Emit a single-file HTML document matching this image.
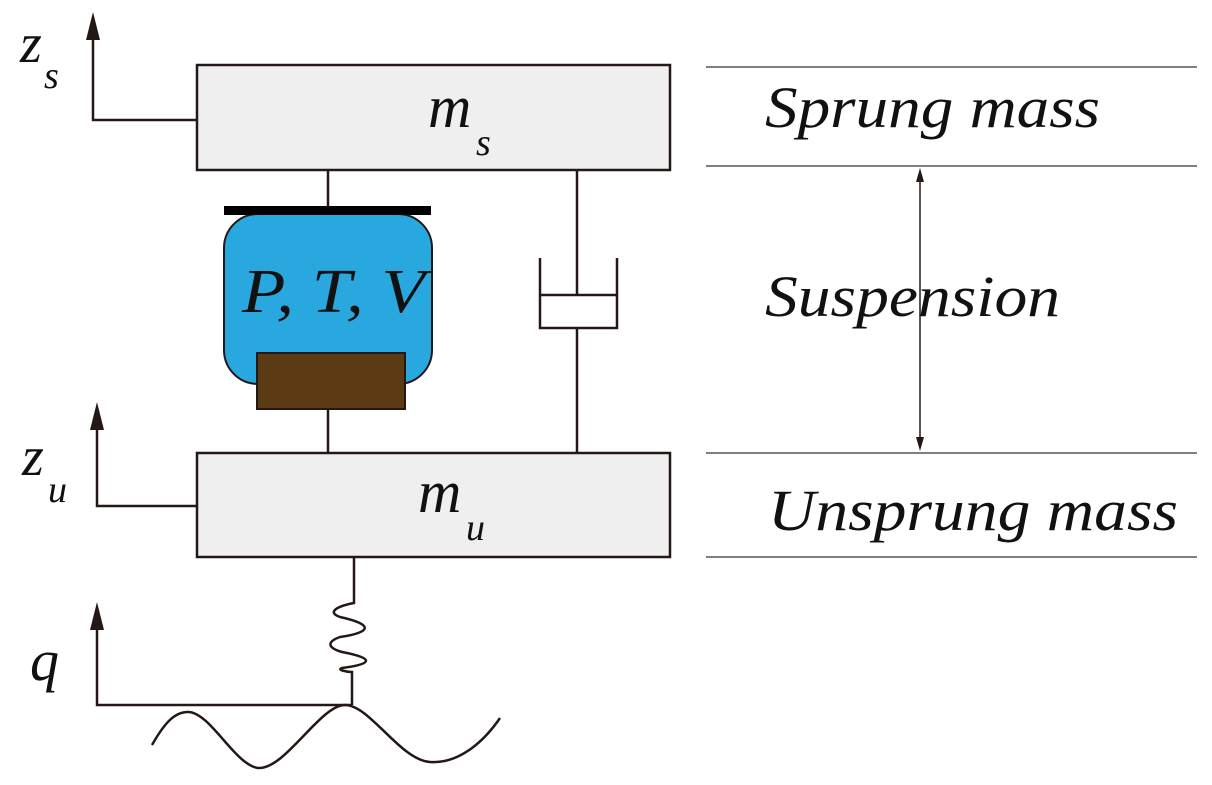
<!DOCTYPE html>
<html><head><style>body{margin:0;background:#fff}</style></head><body>
<svg width="1212" height="780" xmlns="http://www.w3.org/2000/svg" font-family="Liberation Serif, serif" font-style="italic">
<g stroke="#231815" stroke-width="2.5" fill="none">
<polyline points="196,120 93,120 93,40"/>
<polyline points="196,506 97,506 97,430"/>
<polyline points="352,705 97,705 97,630"/>
<line x1="328" y1="170" x2="328" y2="207"/>
<line x1="328" y1="409" x2="328" y2="453"/>
<line x1="577" y1="170" x2="577" y2="295"/>
<line x1="577" y1="328" x2="577" y2="453"/>
<polyline points="540,258 540,328 617,328 617,258"/>
<line x1="540" y1="295" x2="617" y2="295"/>
<path d="M354,557 L354,603 C338,606 326,612 340,617 C372,624 374,632 340,637 C326,642 328,648 342,652 C374,658 374,664 342,668 C336,670 348,672 352,672 L352,705"/>
<path d="M152,745 C165,722 175,712 188,712 C210,712 235,765 258,768 C285,770 320,705 345,705 C370,705 400,760 430,762 C460,764 485,740 500,718"/>
</g>
<g fill="#231815">
<polygon points="93,12 86,40 100,40"/>
<polygon points="97,402 90,430 104,430"/>
<polygon points="97,602 90,630 104,630"/>
<polygon points="920,168 916,182 924,182"/>
<polygon points="920,451 916,437 924,437"/>
</g>
<rect x="197" y="65" width="473" height="105" fill="#efefef" stroke="#231815" stroke-width="2.5"/>
<rect x="197" y="453" width="473" height="104" fill="#efefef" stroke="#231815" stroke-width="2.5"/>
<rect x="224" y="214" width="208" height="170" rx="34" fill="#29a8e0" stroke="#231815" stroke-width="2"/>
<rect x="224" y="206" width="207" height="9" fill="#000"/>
<rect x="257" y="353" width="148" height="56" fill="#5c3a14" stroke="#231815" stroke-width="2"/>
<g stroke="#555" stroke-width="1.5">
<line x1="706" y1="67" x2="1197" y2="67"/><line x1="706" y1="166" x2="1197" y2="166"/>
<line x1="706" y1="453" x2="1197" y2="453"/><line x1="706" y1="557" x2="1197" y2="557"/>
</g>
<line x1="920" y1="180" x2="920" y2="440" stroke="#231815" stroke-width="1.5"/>
<g fill="#111" font-size="58">
<text x="765" y="127" textLength="335" lengthAdjust="spacingAndGlyphs">Sprung mass</text>
<text x="765" y="316" textLength="295" lengthAdjust="spacingAndGlyphs">Suspension</text>
<text x="768" y="530" textLength="410" lengthAdjust="spacingAndGlyphs">Unsprung mass</text>
<text x="242" y="312" font-size="62" textLength="183" lengthAdjust="spacingAndGlyphs">P, T, V</text>
<text x="428" y="127" font-size="60">m</text><text x="476" y="155" font-size="38">s</text>
<text x="418" y="512" font-size="60">m</text><text x="466" y="540" font-size="38">u</text>
<text x="20" y="62" font-size="56">z</text><text x="44" y="88" font-size="38">s</text>
<text x="22" y="475" font-size="56">z</text><text x="48" y="502" font-size="38">u</text>
<text x="30" y="680" font-size="58">q</text>
</g>
</svg>
</body></html>
